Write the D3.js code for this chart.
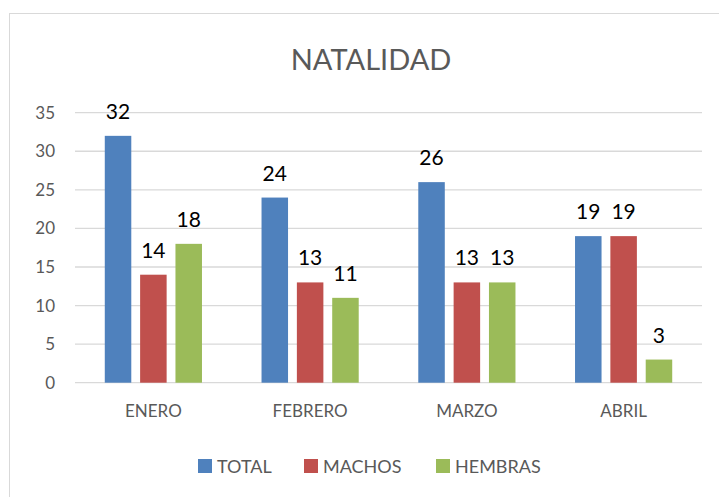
<!DOCTYPE html>
<html>
<head>
<meta charset="utf-8">
<title>Natalidad</title>
<script src="https://d3js.org/d3.v7.min.js"></script>
<style>
  body { margin: 0; background: #fff; }
  svg text { font-family: Lato, "Open Sans", sans-serif; }
</style>
</head>
<body>
<svg id="chart" width="719" height="497"></svg>
<script>
// data
const months = ["ENERO", "FEBRERO", "MARZO", "ABRIL"];
const seriesNames = ["TOTAL", "MACHOS", "HEMBRAS"];
const total   = [32, 24, 26, 19];
const machos  = [14, 13, 13, 19];
const hembras = [18, 11, 13, 3];
const yTicks  = [0, 5, 10, 15, 20, 25, 30, 35];
const colors  = ["#4f81bd", "#c0504d", "#9bbb59"];

const values = [total, machos, hembras];

var svg = d3.select("#chart");

// outer frame
svg.append("rect")
  .attr("x", 9.5).attr("y", 13.5)
  .attr("width", 720).attr("height", 500)
  .attr("fill", "none").attr("stroke", "#d9d9d9");

var plotLeft = 75, plotRight = 702, plotTop = 112.7, plotBottom = 382.7;

var x = d3.scaleBand().domain(months).range([plotLeft, plotRight]).paddingInner(0.38).paddingOuter(0.19);
var xs = d3.scaleBand().domain(seriesNames).range([0, x.bandwidth()]).paddingInner(0.25);
var y = d3.scaleLinear().domain([0, 35]).range([plotBottom, plotTop]);

// gridlines
svg.append("g").selectAll("line")
  .data(yTicks)
  .enter().append("line")
  .attr("x1", plotLeft).attr("x2", plotRight)
  .attr("y1", d => y(d)).attr("y2", d => y(d))
  .attr("stroke", "#d9d9d9").attr("stroke-width", 1.3);

// y axis labels
var yAxis = d3.axisLeft(y).tickValues(yTicks).tickSize(0).tickPadding(20);
var ga = svg.append("g").attr("transform", "translate(" + plotLeft + ",0)").call(yAxis);
ga.select(".domain").remove();
ga.selectAll("text").attr("font-size", 17).attr("fill", "#595959")
  .style("font-family", "Lato, sans-serif");

// x axis labels
var xAxis = d3.axisBottom(x).tickSize(0).tickPadding(22);
var gx = svg.append("g").attr("transform", "translate(0," + plotBottom + ")").call(xAxis);
gx.select(".domain").remove();
gx.selectAll("text").attr("font-size", 17).attr("fill", "#595959")
  .style("font-family", "Lato, sans-serif");

// bars
var groups = svg.append("g").selectAll("g")
  .data(months)
  .enter().append("g")
  .attr("transform", d => "translate(" + x(d) + ",0)");

groups.selectAll("rect")
  .data((m, i) => seriesNames.map((s, j) => ({ s: s, v: values[j][i], c: colors[j] })))
  .enter().append("rect")
  .attr("x", d => xs(d.s))
  .attr("y", d => y(d.v))
  .attr("width", xs.bandwidth())
  .attr("height", d => plotBottom - y(d.v))
  .attr("fill", d => d.c);

groups.selectAll("text.val")
  .data((m, i) => seriesNames.map((s, j) => ({ s: s, v: values[j][i] })))
  .enter().append("text")
  .attr("class", "val")
  .attr("x", d => xs(d.s) + xs.bandwidth() / 2)
  .attr("y", d => y(d.v) - 17)
  .attr("text-anchor", "middle")
  .attr("font-size", 21)
  .attr("fill", "#000")
  .text(d => d.v);

// title
svg.append("text")
  .attr("x", 371).attr("y", 70)
  .attr("text-anchor", "middle")
  .attr("font-size", 29)
  .attr("fill", "#595959")
  .text("NATALIDAD");

// legend
var legendX = [198, 304, 436];
var lg = svg.append("g").selectAll("g")
  .data(seriesNames)
  .enter().append("g")
  .attr("transform", (d, i) => "translate(" + legendX[i] + ",459)");
lg.append("rect").attr("width", 14).attr("height", 14).attr("fill", (d, i) => colors[i]);
lg.append("text").attr("x", 19).attr("y", 14)
  .attr("font-size", 18).attr("fill", "#595959").text(d => d);
</script>
</body>
</html>
